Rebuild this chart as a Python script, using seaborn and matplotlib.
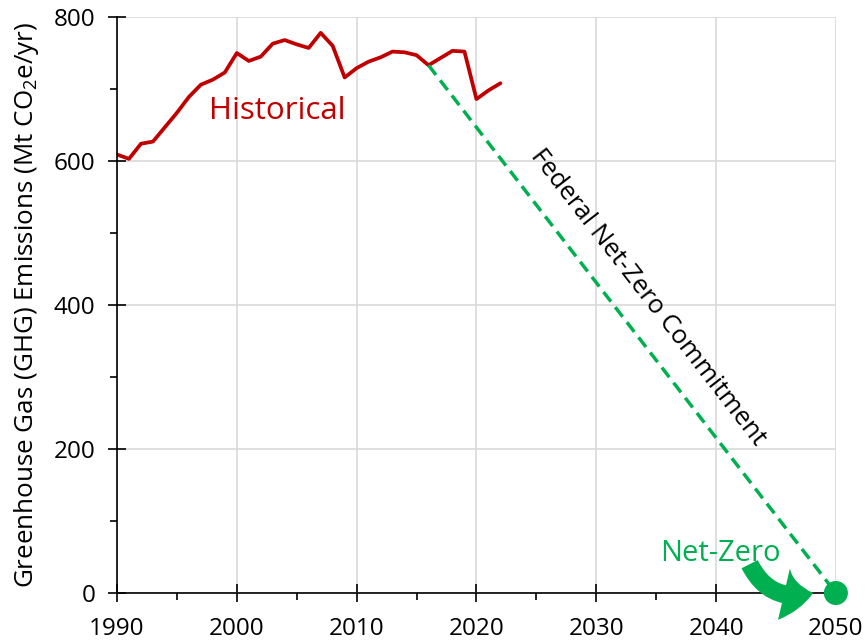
import matplotlib
matplotlib.use('Agg')
import matplotlib.pyplot as plt
import seaborn as sns
import pandas as pd
import numpy as np

# historical emissions (Mt CO2e/yr)
years = list(range(1990, 2023))
emissions = [609, 603, 624, 627, 647, 667, 689, 706, 713, 723,
             750, 739, 745, 763, 768, 762, 757, 778, 760, 716,
             729, 738, 744, 752, 751, 747, 733, 743, 753, 752,
             686, 698, 708]

# net-zero commitment path
commit_years = [2016, 2050]
commit_values = [733, 0]

red = '#C00000'
green = '#00B050'

sns.set_style('whitegrid')
plt.rcParams['font.family'] = ['Open Sans', 'DejaVu Sans']
plt.rcParams['mathtext.default'] = 'regular'

fig = plt.figure(figsize=(8.68, 6.42), dpi=100)
ax = fig.add_axes([0.1348, 0.0763, 0.963 - 0.1348, 0.9735 - 0.0763])

hist = pd.DataFrame({'year': years, 'ghg': emissions})
commit = pd.DataFrame({'year': commit_years, 'ghg': commit_values})

sns.lineplot(data=hist, x='year', y='ghg', color=red, linewidth=2.7, ax=ax)
sns.lineplot(data=commit, x='year', y='ghg', color=green, linewidth=2.5,
             linestyle=(0, (3.5, 2)), ax=ax)
sns.scatterplot(x=[2050], y=[0], color=green, s=300, edgecolor='none',
                zorder=5, clip_on=False, ax=ax)

ax.set_xlim(1990, 2050)
ax.set_ylim(0, 800)
ax.set_xticks(range(1990, 2051, 10))
ax.set_xticks(range(1995, 2050, 10), minor=True)
ax.set_yticks(range(0, 801, 200))
ax.set_yticks(range(100, 800, 200), minor=True)
ax.grid(True, which='major', color='#d9d9d9', linewidth=1.2)
ax.grid(False, which='minor')

for s in ['top', 'right']:
    ax.spines[s].set_visible(False)
for s in ['left', 'bottom']:
    ax.spines[s].set_color('black')
    ax.spines[s].set_linewidth(1.2)

ax.tick_params(which='major', direction='inout', length=13, width=1.2,
               color='black', labelcolor='black', labelsize=17.5,
               left=True, bottom=True)
ax.tick_params(which='minor', direction='out', length=5, width=1.2,
               color='black', left=True, bottom=True)
ax.tick_params(axis='x', which='major', pad=11)
ax.tick_params(axis='y', which='major', pad=9)

ax.set_xlabel('')
ax.set_ylabel('Greenhouse Gas (GHG) Emissions (Mt CO$_2$e/yr)', fontsize=18.7,
              color='black', labelpad=9)

ax.text(1997.7, 669, 'Historical', color=red, fontsize=22.5, va='center', ha='left')
ax.text(2034.3, 410, 'Federal Net-Zero Commitment', color='black', fontsize=18.5,
        rotation=-52.2, rotation_mode='anchor', ha='center', va='center')
ax.text(2040.4, 55, 'Net-Zero', color=green, fontsize=21, ha='center', va='center')

ax.annotate('', xy=(2048.1, 0), xytext=(2042.8, 40),
            arrowprops=dict(arrowstyle='simple,head_width=3.8,head_length=2.1,tail_width=1.3',
                            connectionstyle='arc3,rad=0.4', color=green,
                            linewidth=0, mutation_scale=10,
                            shrinkA=0, shrinkB=0),
            annotation_clip=False)

fig.savefig('out.png', dpi=100)
